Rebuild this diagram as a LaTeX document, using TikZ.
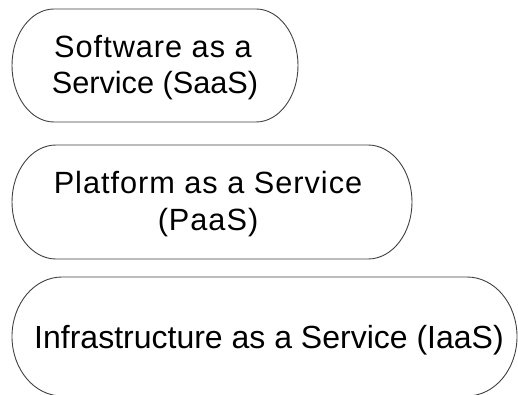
\documentclass[tikz,border=0pt]{standalone}
\usepackage{fontspec}
\setmainfont{Liberation Sans}
\begin{document}
\begin{tikzpicture}[x=1pt,y=1pt,
  pill/.style={draw=black!75, line width=0.9pt},
  lbl/.style={anchor=base, inner sep=0pt, font=\fontsize{30.7}{36}\selectfont},
  wide/.style={font=\fontsize{30.7}{36}\selectfont\addfontfeatures{LetterSpace=3.2}},
  lblbig/.style={anchor=base, inner sep=0pt, font=\fontsize{32}{38}\selectfont}]
\useasboundingbox (0,0) rectangle (518,394);
\clip (0,0) rectangle (518,394);
% SaaS
\draw[pill] (54,385) -- (256,385)
  arc[start angle=90, end angle=-90, x radius=42, y radius=56.5]
  -- (54,272)
  arc[start angle=270, end angle=90, x radius=42, y radius=56.5] -- cycle;
\node[lbl, wide] (s1) at (153,336.3) {Software as a};
\node[lbl] (s2) at (155,300.7) {Service (SaaS)};
% PaaS
\draw[pill] (56,249) -- (368,249)
  arc[start angle=90, end angle=-90, x radius=44, y radius=57]
  -- (56,135)
  arc[start angle=270, end angle=90, x radius=44, y radius=57] -- cycle;
\node[lbl, wide] (p1) at (208,201) {Platform as a Service};
\node[lbl, wide] (p2) at (208,164) {(PaaS)};
% IaaS
\draw[pill] (62,117) -- (467,117)
  arc[start angle=90, end angle=-90, x radius=50, y radius=59.5]
  -- (62,-2)
  arc[start angle=270, end angle=90, x radius=50, y radius=59.5] -- cycle;
\node[lblbig] (i1) at (269,45.7) {Infrastructure as a Service (IaaS)};
\end{tikzpicture}
\end{document}
